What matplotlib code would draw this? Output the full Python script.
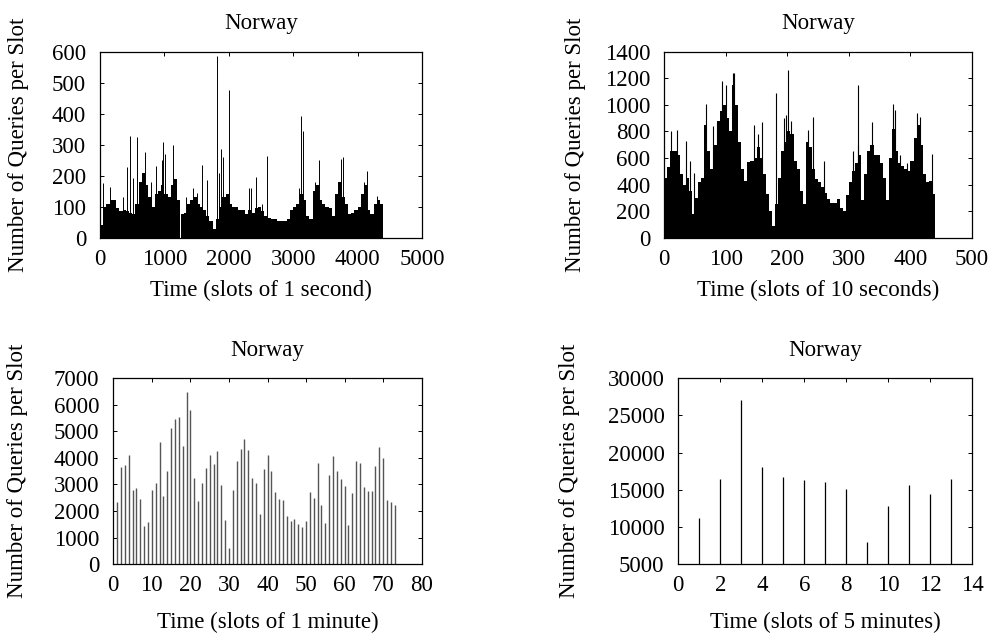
#!/usr/bin/env python3
# Norway query load at four slot sizes (gnuplot-style 2x2 figure)

import matplotlib
import matplotlib.pyplot as plt
import numpy as np

matplotlib.use("Agg")

plt.rcParams["font.family"] = ["Liberation Serif", "DejaVu Serif"]
plt.rcParams["font.size"] = 16.5

# --- data ------------------------------------------------------------------
# 1 second slots: dense level per block of 50 slots, plus isolated spikes
SEC_BLOCK = 50
sec_base = [
    40, 100, 110, 120, 120, 95, 85, 90, 85, 80,
    75, 110, 180, 210, 170, 130, 100, 140, 150, 170,
    140, 130, 170, 190, 120, 75, 80, 110, 120, 130,
    110, 100, 90, 70, 55, 28, 60, 100, 130, 140,
    110, 100, 100, 90, 90, 75, 90, 80, 95, 100,
    85, 70, 65, 60, 60, 55, 55, 55, 60, 90,
    100, 110, 140, 120, 70, 60, 150, 170, 120, 110,
    100, 95, 70, 140, 180, 130, 110, 75, 80, 90,
    100, 140, 170, 90, 75, 110, 120, 110,
]
sec_spike_slots = [
    52, 155, 352, 415, 466, 518, 580, 700, 793, 865,
    964, 984, 1010, 1130, 1332, 1451, 1503, 1591, 1668, 1824,
    1850, 1881, 1907, 2010, 2306, 2342, 2425, 2510, 2591, 3095,
    3121, 3147, 3339, 3396, 3738, 3779, 4100, 4152, 4297,
]
sec_spike_values = [
    177, 162, 130, 229, 328, 191, 324, 275, 180, 231,
    250, 308, 270, 300, 130, 160, 145, 233, 185, 585,
    210, 285, 260, 475, 160, 160, 197, 110, 265, 160,
    392, 344, 180, 250, 255, 260, 180, 215, 135,
]

# 10 second slots: dense level per block of 5 slots, plus spikes
TEN_BLOCK = 5
ten_base = [
    450, 530, 650, 650, 620, 480, 400, 450, 350, 180,
    300, 420, 450, 850, 650, 520, 700, 880, 950, 1000,
    900, 800, 1150, 1000, 720, 520, 430, 570, 580, 600,
    680, 600, 480, 330, 200, 90, 250, 450, 650, 720,
    800, 780, 580, 520, 350, 250, 720, 680, 520, 440,
    420, 380, 340, 290, 260, 260, 290, 220, 200, 320,
    420, 500, 560, 620, 280, 480, 650, 700, 620, 620,
    560, 450, 280, 600, 820, 650, 560, 540, 520, 500,
    580, 750, 850, 700, 480, 420, 430, 330,
]
ten_spike_slots = [
    11, 20, 35, 42, 49, 67, 79, 85, 93, 101,
    111, 113, 145, 152, 159, 182, 195, 197, 201, 206,
    233, 241, 259, 306, 314, 315, 337, 371, 375, 383,
    395, 410, 416, 435,
]
ten_spike_values = [
    800, 810, 730, 580, 490, 1003, 840, 870, 1180, 1150,
    1240, 1240, 850, 780, 870, 1090, 900, 920, 1260, 880,
    810, 910, 580, 650, 700, 1150, 870, 1010, 960, 620,
    560, 940, 910, 630,
]

# 1 minute slots (1..73)
minute_values = [
    2350, 3650, 3720, 4120, 2800, 2850, 2450, 1450, 1600, 2800,
    3050, 4600, 2570, 3500, 5130, 5450, 5550, 4450, 6480, 5800,
    3250, 2370, 3050, 3600, 4100, 3780, 4250, 2970, 1650, 600,
    2800, 3890, 4350, 4700, 4290, 3250, 3050, 1880, 3590, 4100,
    3510, 2700, 2460, 2400, 1810, 1630, 1710, 1520, 1410, 1610,
    2720, 2480, 3800, 2230, 1560, 3360, 4060, 3510, 3220, 2940,
    1470, 2670, 3890, 3790, 2910, 2740, 2770, 3680, 4420, 3980,
    2420, 2350, 2230,
]

# 5 minute slots (1..13)
fivemin_values = [11200, 16500, 27100, 18100, 16700, 16300, 16000,
                  15100, 8000, 12800, 15700, 14400, 16500]

YLABEL = "Number of Queries per Slot"

W, H = 995, 641
fig = plt.figure(figsize=(W / 100, H / 100), dpi=100)


def make_axes(left, right, top, bottom):
    """Axes from pixel box (y measured from the top)."""
    return fig.add_axes([left / W, 1 - bottom / H, (right - left) / W, (bottom - top) / H])


def style(ax, xlabel, xlim, xstep, ylim, ystep, ylab_x, xlab_y):
    ax.set_xlim(*xlim)
    ax.set_ylim(*ylim)
    ax.set_xticks(np.arange(xlim[0], xlim[1] + xstep / 2, xstep))
    ax.set_yticks(np.arange(ylim[0], ylim[1] + ystep / 2, ystep))
    ax.tick_params(direction="in", top=True, right=True, length=3, width=0.7)
    ax.tick_params(axis="x", pad=8)
    ax.tick_params(axis="y", pad=10)
    for s in ax.spines.values():
        s.set_linewidth(0.9)
    ax.set_title("Norway", pad=16, fontsize=16.5)
    ax.set_xlabel(xlabel)
    ax.xaxis.set_label_coords(0.5, xlab_y)
    ax.xaxis.label.set_verticalalignment("center")
    ax.set_ylabel(YLABEL)
    ax.yaxis.set_label_coords(ylab_x, 0.5)
    ax.yaxis.label.set_verticalalignment("center")


# 1. seconds
ax1 = make_axes(100, 422, 51.7, 237.7)
sec_x = np.arange(len(sec_base)) * SEC_BLOCK
ax1.bar(sec_x, sec_base, width=SEC_BLOCK, align="edge", color="black", linewidth=0)
ax1.vlines(sec_spike_slots, 0, sec_spike_values, color="black", linewidth=0.7)
style(ax1, "Time (slots of 1 second)", (0, 5000), 1000, (0, 600), 100,
      ylab_x=(18 - 100) / 322, xlab_y=-(290 - 237.7) / 186)

# 2. ten seconds
ax2 = make_axes(664.3, 972, 51.7, 237.7)
ten_x = np.arange(len(ten_base)) * TEN_BLOCK
ax2.bar(ten_x, ten_base, width=TEN_BLOCK, align="edge", color="black", linewidth=0)
ax2.vlines(ten_spike_slots, 0, ten_spike_values, color="black", linewidth=0.8)
style(ax2, "Time (slots of 10 seconds)", (0, 500), 100, (0, 1400), 200,
      ylab_x=(575.5 - 664.3) / 307.7, xlab_y=-(290 - 237.7) / 186)

# 3. minutes
ax3 = make_axes(113.3, 421.7, 378, 564.3)
minute_x = np.arange(1, len(minute_values) + 1)
ax3.vlines(minute_x, 0, minute_values, color="#555555", linewidth=1.0)
style(ax3, "Time (slots of 1 minute)", (0, 80), 10, (0, 7000), 1000,
      ylab_x=(18 - 113.3) / 308.4, xlab_y=-(622 - 564.3) / 186.3)

# 4. five minutes
ax4 = make_axes(678.3, 972.3, 378, 564.3)
fivemin_x = np.arange(1, len(fivemin_values) + 1)
ax4.vlines(fivemin_x, 0, fivemin_values, color="black", linewidth=0.9)
style(ax4, "Time (slots of 5 minutes)", (0, 14), 2, (5000, 30000), 5000,
      ylab_x=(569 - 678.3) / 294, xlab_y=-(622 - 564.3) / 186.3)

fig.savefig("out.png", dpi=100)
plt.close(fig)
